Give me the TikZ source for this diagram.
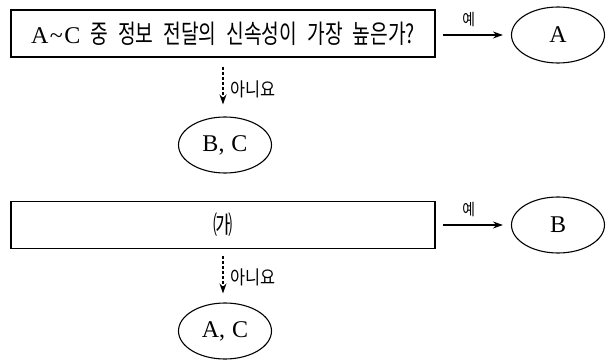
\documentclass[tikz,border=0pt]{standalone}
\usepackage{fontspec}
\setmainfont{Liberation Serif}
\newfontfamily\kr[FakeStretch=0.74]{Noto Sans CJK KR}
\newfontfamily\krs[FakeStretch=0.86]{Noto Sans CJK KR}
\newcommand{\gap}{\hspace{10pt}}
\usetikzlibrary{positioning, shapes.geometric, arrows.meta}

\begin{document}
\begin{tikzpicture}[x=1pt, y=-1pt,
  box/.style={draw, line width=1.4pt, minimum width=424pt, minimum height=47pt, inner sep=0pt,
    font=\fontsize{24}{28}\selectfont},
  oval/.style={ellipse, draw, line width=1.1pt, minimum width=93pt, minimum height=56pt, inner sep=0pt,
    font=\fontsize{24}{28}\selectfont},
  yes/.style={line width=1.2pt, shorten >=8pt, -{Stealth[length=10pt, width=7pt]}},
  no/.style={line width=1.2pt, dashed, dash pattern=on 3pt off 2pt, -{Stealth[length=10pt, width=7pt]}},
  lbl/.style={font=\krs\fontsize{19}{21}\selectfont, inner sep=1pt},
  slbl/.style={font=\krs\fontsize{16}{18}\selectfont, inner sep=1pt}]
  \useasboundingbox (0,0) rectangle (613,361);
  % first question
  \node[box] (q1) at (223,33.5) {A\kern1.5pt\textasciitilde\kern1.5pt C\gap{\kr\fontsize{26}{28}\selectfont
    중\gap 정보\gap 전달의\gap 신속성이\gap 가장\gap 높은가?}};
  \node[oval] (a) at (558,35) {A};
  \node[oval] (bc) at (225,145) {B,\hspace{7pt}C};
  \coordinate (q1e) at (443,35);
  \coordinate (q1s) at (223,67);
  \draw[yes] (q1e) -- (a.west) node[slbl, pos=0.38, above=7pt] {예};
  \draw[no, shorten >=12pt] (q1s) -- (bc.north -| q1s) node[lbl, pos=0.45, right=6pt] {아니요};
  % second question
  \node[box] (q2) at (223,225) {{\kr\fontsize{26}{28}\selectfont ㈎}};
  \node[oval] (b) at (558,225) {B};
  \node[oval] (ac) at (225,331) {A,\hspace{7pt}C};
  \coordinate (q2e) at (443,225);
  \coordinate (q2s) at (223,256);
  \draw[yes] (q2e) -- (b.west) node[slbl, pos=0.38, above=7pt] {예};
  \draw[no, shorten >=9pt] (q2s) -- (ac.north -| q2s) node[lbl, pos=0.45, right=6pt] {아니요};
\end{tikzpicture}
\end{document}
